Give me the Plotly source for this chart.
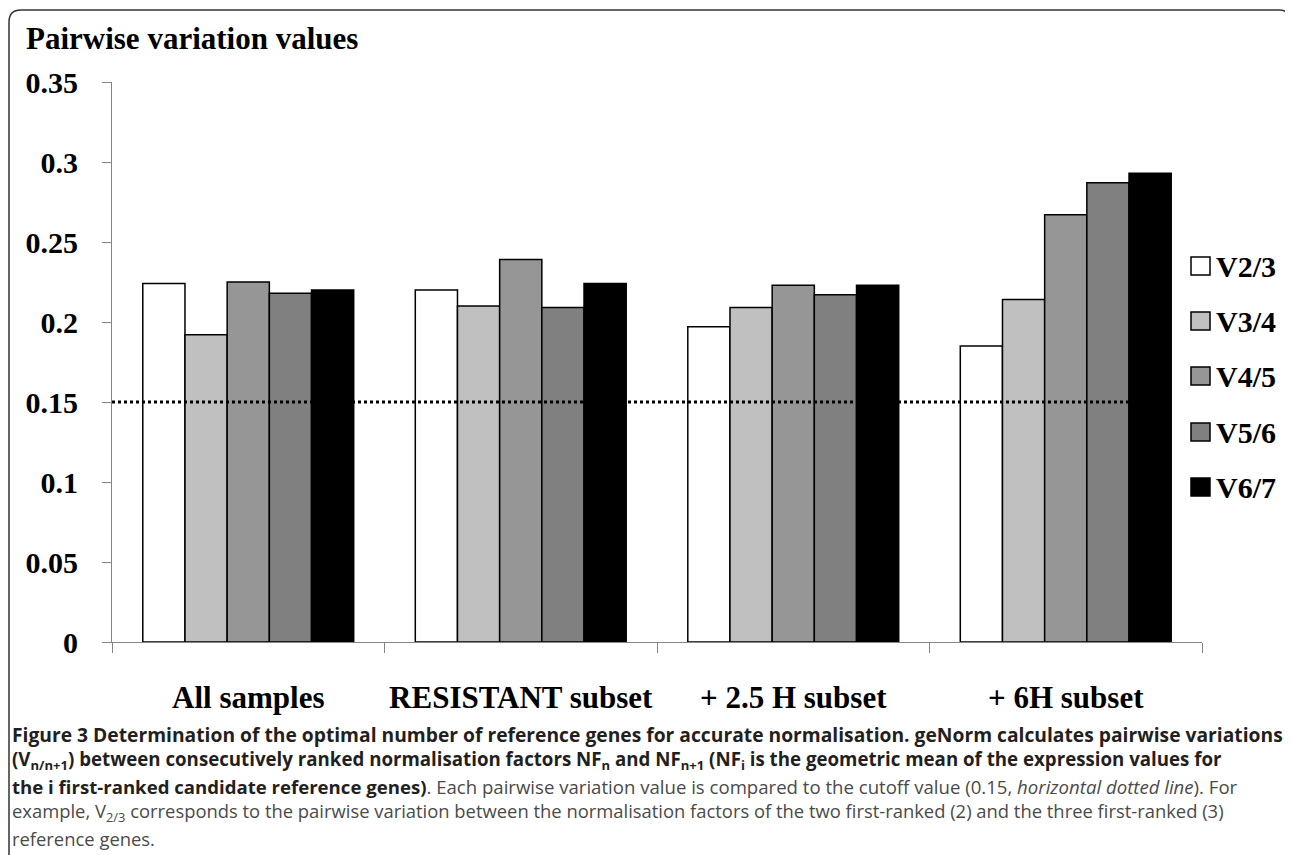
import plotly.graph_objects as go

# ---------------- data ----------------
categories = ["All samples", "RESISTANT subset", "+ 2.5 H subset", "+ 6H subset"]
series_names = ["V2/3", "V3/4", "V4/5", "V5/6", "V6/7"]
v23 = [0.224, 0.220, 0.197, 0.185]
v34 = [0.192, 0.210, 0.209, 0.214]
v45 = [0.225, 0.239, 0.223, 0.267]
v56 = [0.218, 0.209, 0.217, 0.287]
v67 = [0.220, 0.224, 0.223, 0.293]
cutoff = 0.15
y_ticks = [0, 0.05, 0.1, 0.15, 0.2, 0.25, 0.3, 0.35]
y_ticktext = ["0", "0.05", "0.1", "0.15", "0.2", "0.25", "0.3", "0.35"]

series_values = [v23, v34, v45, v56, v67]
colors = ["#ffffff", "#c0c0c0", "#969696", "#808080", "#000000"]

# page body adds an 8px offset; work in screenshot pixels and convert
OFF = 8
W, H = 1293 - OFF, 855 - OFF
PL, PR, PT, PB = 112, 1202, 82, 642      # plot area in screenshot pixels
L, R, T, B = PL - OFF, (W + OFF) - PR, PT - OFF, (H + OFF) - PB
PW, PH = PR - PL, PB - PT


def px(x):
    return (x - PL) / PW


def py(y):
    return (PB - y) / PH


SERIF = "Liberation Serif, Times New Roman, serif"
SANS = "Open Sans, Noto Sans, sans-serif"

fig = go.Figure()
for name, vals, col in zip(series_names, series_values, colors):
    fig.add_trace(go.Bar(
        x=categories, y=vals, name=name,
        marker=dict(color=col, line=dict(color="#000000", width=1.5)),
        showlegend=False,
    ))

# cutoff dotted line
fig.add_shape(type="line", xref="paper", yref="y", x0=0, x1=px(1168),
              y0=cutoff, y1=cutoff, line=dict(color="#000000", width=3, dash="dot"))

# custom legend
leg_y = [266, 321, 376, 432, 487]
for name, col, yc in zip(series_names, colors, leg_y):
    fig.add_shape(type="rect", xref="paper", yref="paper",
                  x0=px(1191), x1=px(1210), y0=py(yc + 9), y1=py(yc - 9),
                  fillcolor=col, line=dict(color="#000000", width=1.5))
    fig.add_annotation(xref="paper", yref="paper", x=px(1214), y=py(yc),
                       xanchor="left", yanchor="middle", showarrow=False,
                       text="<b>" + name + "</b>",
                       font=dict(family=SERIF, size=30, color="#000000"))

# title
fig.add_annotation(xref="paper", yref="paper", x=px(24), y=py(38),
                   xanchor="left", yanchor="middle", showarrow=False,
                   text="<b>Pairwise variation values</b>",
                   font=dict(family=SERIF, size=31, color="#000000"))

# frame
x0f, x1f, y0f, y1f, r = 9, 1291, 10, 870, 12
path = (f"M {px(x0f)},{py(y1f)} L {px(x0f)},{py(y0f + r)} "
        f"Q {px(x0f)},{py(y0f)} {px(x0f + r)},{py(y0f)} "
        f"L {px(x1f - r)},{py(y0f)} Q {px(x1f)},{py(y0f)} {px(x1f)},{py(y0f + r)} "
        f"L {px(x1f)},{py(y1f)}")
fig.add_shape(type="path", xref="paper", yref="paper", path=path,
              line=dict(color="#333333", width=1.5))

# caption
cap_dark = "#231f20"
cap_grey = "#4a4a4a"
caption_lines = [
    "<b>Figure 3 Determination of the optimal number of reference genes for accurate normalisation. geNorm calculates pairwise variations</b>",
    "<b>(V<sub>n/n+1</sub>) between consecutively ranked normalisation factors NF<sub>n</sub> and NF<sub>n+1</sub> (NF<sub>i</sub> is the geometric mean of the expression values for</b>",
    "<b>the i first-ranked candidate reference genes)</b><span style='color:" + cap_grey + "'>. Each pairwise variation value is compared to the cutoff value (0.15, <i>horizontal dotted line</i>). For</span>",
    "<span style='color:" + cap_grey + "'>example, V<sub>2/3</sub> corresponds to the pairwise variation between the normalisation factors of the two first-ranked (2) and the three first-ranked (3)</span>",
    "<span style='color:" + cap_grey + "'>reference genes.</span>",
]
cap_sizes = [19.25, 18.7, 18.6, 18.4, 18.4]
cap_y = [734, 760, 786, 812, 838]
for txt, yc, sz in zip(caption_lines, cap_y, cap_sizes):
    fig.add_annotation(xref="paper", yref="paper", x=px(10), y=py(yc),
                       xanchor="left", yanchor="middle", showarrow=False,
                       text=txt, font=dict(family=SANS, size=sz, color=cap_dark))

fig.update_layout(
    width=W, height=H,
    margin=dict(l=L, r=R, t=T, b=B, pad=0),
    paper_bgcolor="#ffffff", plot_bgcolor="#ffffff",
    barmode="group", bargap=0.226, bargroupgap=0,
    showlegend=False,
)
fig.update_yaxes(range=[0, 0.35], tickvals=y_ticks,
                 ticktext=["<b>" + t + "</b>" for t in y_ticktext],
                 showgrid=False, zeroline=False, showline=True,
                 linecolor="#868686", linewidth=1, ticks="outside", ticklen=9,
                 tickcolor="#868686", ticklabelstandoff=18,
                 tickfont=dict(family=SERIF, size=30, color="#000000"))
fig.update_xaxes(showgrid=False, showline=True, linecolor="#868686", linewidth=1,
                 ticks="outside", tickson="boundaries", ticklen=10,
                 tickcolor="#868686", ticklabelstandoff=28, tickangle=0,
                 tickfont=dict(family=SERIF, size=31, color="#000000"),
                 tickprefix="<b>", ticksuffix="</b>")

fig.write_html("out.html")
